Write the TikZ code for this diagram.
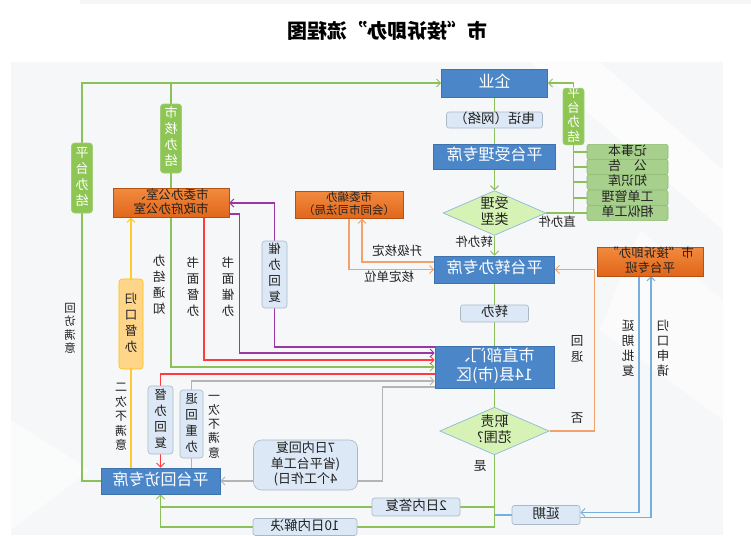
\documentclass[tikz,border=0pt]{standalone}
\usepackage{fontspec}
\setmainfont{Noto Sans CJK SC}
\usepackage{graphicx}
\usetikzlibrary{shapes.geometric,arrows.meta,calc}
\newcommand\myfs[2]{\fontsize{#1}{#2}\selectfont}
\newcommand\rb[1]{\reflectbox{\begin{tabular}{@{}c@{}}#1\end{tabular}}}
\definecolor{bbox}{HTML}{4A86C8}
\definecolor{bboxd}{HTML}{3E73AE}
\definecolor{lbl}{HTML}{DCE8F5}
\definecolor{lbld}{HTML}{A9B8C8}
\definecolor{gline}{HTML}{8CC15A}
\definecolor{gbox}{HTML}{8DC653}
\definecolor{sgbox}{HTML}{A8D08D}
\definecolor{sgboxd}{HTML}{8DBB6E}
\definecolor{oboxt}{HTML}{F28A3E}
\definecolor{oboxb}{HTML}{E0661A}
\definecolor{oline}{HTML}{F4A26B}
\definecolor{pline}{HTML}{9C36A5}
\definecolor{rline}{HTML}{FF3B3B}
\definecolor{grline}{HTML}{B4B4B4}
\definecolor{yline}{HTML}{FFC933}
\definecolor{ybox}{HTML}{FFD58A}
\definecolor{yboxd}{HTML}{FFC000}
\definecolor{bline}{HTML}{77AEE0}
\definecolor{dfill}{HTML}{D6F2B4}
\definecolor{dline}{HTML}{8FB8DC}
\definecolor{panel}{HTML}{F6F7F8}
\definecolor{txtc}{HTML}{222222}
\pgfdeclarelayer{bgzero}
\pgfdeclarelayer{lines}
\pgfsetlayers{bgzero,lines,main}
\tikzset{
  bluebox/.style={draw=bboxd, fill=bbox, text=white, font=\myfs{16}{18}, inner sep=0pt, line width=0.6pt},
  lblbox/.style={draw=lbld, fill=lbl, rounded corners=2.5pt, font=\myfs{13.5}{15}, text=txtc, inner sep=0pt, line width=0.6pt},
  vlbl/.style={lblbox, rounded corners=3pt, font=\myfs{12.5}{16}},
  gtag/.style={draw=gline!80!white, fill=gbox, text=white, rounded corners=3pt, font=\myfs{13}{16}, inner sep=0pt, line width=0.6pt},
  sgb/.style={draw=sgboxd, fill=sgbox, text=txtc, rounded corners=2pt, font=\myfs{13}{14}, inner sep=0pt, minimum width=81pt, minimum height=14pt, line width=0.6pt},
  obox/.style={draw=oboxb!80!black, top color=oboxt, bottom color=oboxb, text=txtc, inner sep=0pt, line width=0.4pt},
  dia/.style={diamond, draw=dline, fill=dfill, inner sep=0pt, aspect=2.3, font=\myfs{14}{15}, text=txtc, line width=0.7pt},
  ybx/.style={draw=yboxd, fill=ybox, text=txtc, rounded corners=3pt, font=\myfs{12.5}{16}, inner sep=0pt, line width=0.6pt},
  txt/.style={text=txtc, inner sep=0pt, font=\myfs{12.5}{14}},
  vtxt/.style={text=txtc, inner sep=0pt, font=\myfs{12.5}{16}},
  arr/.style={-{Straight Barb[length=4pt,width=8pt,line width=1pt]}},
  ln/.style={line width=1.1pt},
  gl/.style={ln, draw=gline},
  ol/.style={ln, draw=oline},
  pl/.style={ln, draw=pline},
  rl/.style={ln, draw=rline},
  grl/.style={ln, draw=grline},
  yl/.style={ln, draw=yline},
  bl/.style={ln, draw=bline},
}
\begin{document}
\begin{tikzpicture}[x=1pt,y=-1pt]
\useasboundingbox (0,0) rectangle (751,535);
\begin{pgfonlayer}{bgzero}
  \fill[white] (0,0) rectangle (751,535);
  \fill[gray!7] (80,0) rectangle (751,4);
  \fill[panel] (11,62) rectangle (723,535);
  \fill[white,opacity=0.7] (530,62) -- (600,62) -- (723,170) -- (723,230) -- cycle;
  \fill[white,opacity=0.6] (640,230) -- (723,300) -- (723,420) -- (600,330) -- cycle;
  \fill[white,opacity=0.5] (11,420) -- (90,470) -- (11,530) -- cycle;
\end{pgfonlayer}

% title
\node[txt, font=\myfs{20}{24}\bfseries, text=black] (title) at (387,33) {\rb{市“接诉即办”流程图}};

% main column
\node[bluebox, minimum width=106pt, minimum height=28pt] (qiye) at (494.5,83) {\rb{企业}};
\node[lblbox, minimum width=96pt, minimum height=15pt] (dianhua) at (494.5,120) {\rb{电话（网络）}};
\node[bluebox, minimum width=122pt, minimum height=25pt] (shouli) at (494.5,156.5) {\rb{平台受理专席}};
\node[dia, minimum width=97pt, minimum height=42pt] (d1) at (494.5,213) {\rb{受理\\类型}};
\node[bluebox, minimum width=120pt, minimum height=27pt] (zhuanban) at (494.5,269.5) {\rb{平台转办专席}};
\node[lblbox, minimum width=68pt, minimum height=17pt] (zb) at (494.5,313.5) {\rb{转办}};
\node[bluebox, minimum width=119pt, minimum height=42pt, font=\myfs{16}{19}] (shizhi) at (494.5,367) {\rb{市直部门、\\14县(市)区}};
\node[dia, minimum width=99pt, minimum height=44pt] (d2) at (494.5,431) {\rb{职责\\范围?}};
\node[lblbox, minimum width=88pt, minimum height=18pt] (ri2) at (416,507) {\rb{2日内答复}};
\node[lblbox, minimum width=104pt, minimum height=17pt] (ri10) at (305,527) {\rb{10日内解决}};
\node[lblbox, minimum width=68pt, minimum height=19pt] (yanqi) at (546,515) {\rb{延期}};
\node[obox, minimum width=106pt, minimum height=27pt, font=\myfs{12.5}{13}] (zb2) at (650,261.5) {\rb{市“接诉即办”\\平台专班}};
\node[obox, minimum width=108pt, minimum height=26pt, font=\myfs{11.5}{12.5}] (bianban) at (349,205) {\rb{市委编办\\（会同市司法局）}};
\node[obox, minimum width=116pt, minimum height=28pt, font=\myfs{12.5}{13}] (shiwei) at (171,203) {\rb{市委办公室、\\市政府办公室}};
\node[bluebox, minimum width=119pt, minimum height=26pt] (huifang) at (160.5,481) {\rb{平台回访专席}};
\node[lblbox, rounded corners=8pt, minimum width=104pt, minimum height=50pt, font=\myfs{13}{15}] (qiri) at (305.5,465) {\rb{7日内回复\\(省平台工单\\4个工作日)}};
\node[ybx, minimum width=24pt, minimum height=90pt] (guikou) at (131,324) {\rb{归\\口\\督\\办}};
\node[vlbl, minimum width=25pt, minimum height=68pt] (duban) at (160.5,420) {\rb{督\\办\\回\\复}};
\node[vlbl, minimum width=23pt, minimum height=68pt] (tuihui) at (191.5,424) {\rb{退\\回\\重\\办}};
\node[vlbl, minimum width=25pt, minimum height=67pt] (cuiban) at (274.5,274.5) {\rb{催\\办\\回\\复}};
\node[gtag, minimum width=21pt, minimum height=70pt] (pt1) at (82,178) {\rb{平\\台\\办\\结}};
\node[gtag, minimum width=21pt, minimum height=69pt] (shihe) at (171,138.5) {\rb{市\\核\\办\\结}};
\node[gtag, minimum width=21pt, minimum height=53pt, font=\myfs{12.5}{13}] (pt2) at (573.5,116.5) {\rb{平\\台\\办\\结}};
\node[sgb] (b1) at (627.5,152) {\rb{记事本}};
\node[sgb] (b2) at (627.5,167) {\rb{公　告}};
\node[sgb] (b3) at (627.5,182) {\rb{知识库}};
\node[sgb] (b4) at (627.5,198) {\rb{工单管理}};
\node[sgb] (b5) at (627.5,213) {\rb{相似工单}};

% plain labels
\node[txt] (l1) at (474,243) {\rb{转办件}};
\node[txt] (l2) at (557,223) {\rb{直办件}};
\node[txt] (l3) at (397,252) {\rb{升级核定}};
\node[txt] (l4) at (389,278) {\rb{核定单位}};
\node[vtxt] (l5) at (577,350) {\rb{回\\退}};
\node[txt] (l6) at (577,420) {\rb{否}};
\node[vtxt, font=\myfs{12.5}{15}] (l7) at (628,350) {\rb{延\\期\\批\\复}};
\node[vtxt, font=\myfs{12.5}{15}] (l8) at (663,350) {\rb{归\\口\\申\\请}};
\node[vtxt] (l9) at (159,286) {\rb{办\\结\\通\\知}};
\node[vtxt] (l10) at (193,288) {\rb{书\\面\\督\\办}};
\node[vtxt] (l11) at (228,288) {\rb{书\\面\\催\\办}};
\node[vtxt, font=\myfs{11.5}{12.5}] (l12) at (70,330) {\rb{回\\访\\满\\意}};
\node[vtxt, font=\myfs{12}{14.5}] (l13) at (121,418) {\rb{二\\次\\不\\满\\意}};
\node[vtxt, font=\myfs{12}{13.8}] (l14) at (214,426) {\rb{一\\次\\不\\满\\意}};
\node[txt] (l15) at (480,468) {\rb{是}};

\coordinate (tl) at (82,83);
\coordinate (tm) at (171,83);
\coordinate (b10) at (494.5,527);

\begin{pgfonlayer}{lines}
  % main column
  \draw[gl] (qiye.south) -- (shouli.north);
  \draw[gl,arr] (shouli.south) -- (d1.north);
  \draw[gl,arr] (d1.south) -- (zhuanban.north);
  \draw[gl] (zhuanban.south) -- (shizhi.north);
  \draw[gl] (shizhi.south) -- (d2.north);
  \draw[gl,arr] (d2.south) -- (b10) -| (huifang.south);
  \draw[gl] (ri2 -| d2.south) -- (ri2 -| huifang.south);
  % delay
  \draw[bl] (yanqi -| d2.south) -- (yanqi.west);
  \draw[bl,arr] ([xshift=-11pt]zb2.south) |- ([yshift=2.5pt]yanqi.east);
  \draw[bl,arr] ([yshift=-2.5pt]yanqi.east) -| ([xshift=1pt]zb2.south);
  % return
  \draw[ol,arr] (d2.east) -- ++(45,0) |- (zhuanban.east);
  % left green
  \draw[gl,arr] (huifang.west) -| (tl) -- (qiye.west);
  \draw[gl,arr] (tm) |- (shizhi.west);
  % red
  \draw[rl,arr] ([yshift=-7pt]shizhi.west) -| (huifang.north);
  \draw[rl,arr] ([xshift=33pt]shiwei.south) |- ([yshift=7pt]shizhi.west);
  % purple
  \draw[pl,arr] ([yshift=-11pt]shiwei.east) -- ++(10,0) |- ([yshift=14pt]shizhi.west);
  \draw[pl,arr] ([yshift=20pt]shizhi.west) -| (cuiban.north) |- (shiwei.east);
  % gray
  \draw[grl,arr] (huifang.north -| tuihui) |- ([yshift=-14pt]shizhi.west);
  \draw[grl,arr] ([yshift=-20pt]shizhi.west) -- ++(-52,0) |- (huifang.east);
  % yellow
  \draw[yl,arr] (huifang.north -| guikou) -- (shiwei.south -| guikou);
  % orange bianban
  \draw[ol,arr] ([yshift=7.5pt]zhuanban.west) -| ([xshift=13pt]bianban.south);
  \draw[ol,arr] (bianban.south) |- (zhuanban.west);
  % right green
  \draw[gl] (d1.east) -- (b5.west);
  \draw[gl,arr] (b5.west -| pt2) |- (qiye.east);
  \foreach \b in {b1,b2,b3,b4} \draw[gl] (\b.west) -- (\b.west -| pt2);
\end{pgfonlayer}
\end{tikzpicture}
\end{document}
